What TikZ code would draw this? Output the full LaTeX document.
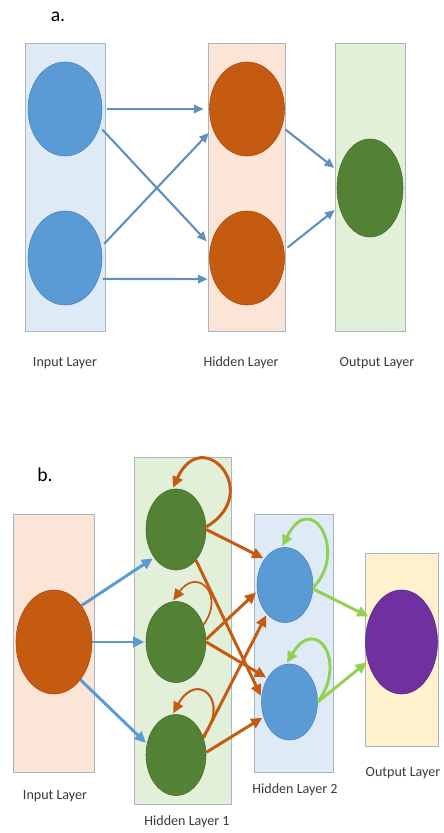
\documentclass[tikz,border=0pt]{standalone}
\usepackage{fontspec}
\setmainfont{Carlito}
\usetikzlibrary{arrows.meta, shapes.geometric}

\definecolor{nnblue}{HTML}{5B9BD5}
\definecolor{nnorange}{HTML}{C55A11}
\definecolor{nngreen}{HTML}{548235}
\definecolor{nnpurple}{HTML}{7030A0}
\definecolor{nnlime}{HTML}{92D050}
\definecolor{nnsteel}{HTML}{6090C0}
\definecolor{boxblue}{HTML}{DEEBF7}
\definecolor{boxpeach}{HTML}{FBE5D6}
\definecolor{boxgreen}{HTML}{E2F0D9}
\definecolor{boxyellow}{HTML}{FFF2CC}
\definecolor{boxedge}{HTML}{AAB5C3}
\definecolor{labelgray}{HTML}{3A3A3A}

\begin{document}
\begin{tikzpicture}[x=0.025cm, y=-0.025cm, font=\fontsize{10}{12}\selectfont,
    layer/.style={draw=boxedge, line width=0.6pt},
    neuron/.style={ellipse, inner sep=0pt, fill=#1, draw=#1!85!black, line width=0.4pt},
    caption/.style={text=labelgray, inner sep=0pt},
    tag/.style={font=\fontsize{14}{16}\selectfont, inner sep=0pt},
    conna/.style={-{Triangle[length=2.4mm,width=2.1mm]}, draw=nnsteel, line width=1.5pt,
        shorten <=3pt, shorten >=4pt},
    connb/.style={-{Triangle[length=2.8mm,width=2.6mm]}, draw=#1, line width=2.1pt,
        shorten >=1pt}]
    \useasboundingbox (0,0) rectangle (443,833);

    % 图 a
    \node[tag] (taga) at (58,17) {a.};
    \draw[layer, fill=boxblue] (25,43) rectangle (105,331);
    \draw[layer, fill=boxpeach] (208,43) rectangle (285,331);
    \draw[layer, fill=boxgreen] (335,43) rectangle (405,331);

    \foreach \y [count=\i] in {109,258} {
        \node[neuron=nnblue, minimum width=1.85cm, minimum height=2.35cm] (ina\i) at (65,\y) {};
        \node[neuron=nnorange, minimum width=1.875cm, minimum height=2.35cm] (hida\i) at (247,\y) {};
    }
    \node[neuron=nngreen, minimum width=1.65cm, minimum height=2.45cm] (outa) at (370,188) {};

    % 连接
    \draw[conna] (ina1.0) -- (hida1.180);
    \draw[conna] (ina1.-27) -- (hida2.161);
    \draw[conna] (ina2.17) -- (hida1.-150);
    \draw[conna] (ina2.-32) -- (hida2.-148);
    \draw[conna] (hida1.-27) -- (outa.152);
    \draw[conna] (hida2.12) -- (outa.-149);

    \node[caption] (capa1) at (65,363) {Input Layer};
    \node[caption] (capa2) at (241,363) {Hidden Layer};
    \node[caption] (capa3) at (377,363) {Output Layer};

    % 图 b
    \node[tag] (tagb) at (45,475) {b.};
    \draw[layer, fill=boxpeach] (13,514) rectangle (94,772);
    \draw[layer, fill=boxgreen] (134,457) rectangle (231,804);
    \draw[layer, fill=boxblue] (254,514) rectangle (333,772);
    \draw[layer, fill=boxyellow] (365,553) rectangle (438,746);

    \node[neuron=nnorange, minimum width=1.9cm, minimum height=2.6cm] (inb) at (54,642) {};
    \foreach \y [count=\i] in {529.5,642,755}
        \node[neuron=nngreen, minimum width=1.5cm, minimum height=2.025cm] (hx\i) at (176,\y) {};
    \node[neuron=nnblue, minimum width=1.4cm, minimum height=1.875cm] (hy1) at (285,585) {};
    \node[neuron=nnblue, minimum width=1.4cm, minimum height=1.9cm] (hy2) at (289.5,702) {};
    \node[neuron=nnpurple, minimum width=1.8cm, minimum height=2.6cm] (outb) at (401.5,642) {};

    % 输入层 -> 隐藏层 1
    \draw[connb=nnblue] (inb.53) -- (hx1.-128);
    \draw[connb=nnblue] (inb.0) -- (hx2.180);
    \draw[connb=nnblue] (inb.-55) -- (hx3.159);

    % 隐藏层 1 -> 隐藏层 2
    \draw[connb=nnorange] (hx1.0) -- (hy1.128);
    \draw[connb=nnorange] (hx1.-57) -- (hy2.170);
    \draw[connb=nnorange] (hx2.5) -- (hy1.-167);
    \draw[connb=nnorange] (hx2.0) -- (hy2.133);
    \draw[connb=nnorange] (hx3.32) -- (hy1.-122);
    \draw[connb=nnorange] (hx3.5) -- (hy2.-150);

    % 自环
    \draw[connb=nnorange] (hx1.5) .. controls +(58,-34) and +(30,-66) .. (hx1.95);
    \draw[connb=nnorange, line width=1.2pt] (hx2.32) .. controls +(22,-30) and +(25,-35) .. (hx2.95);
    \draw[connb=nnorange, line width=1.5pt] (hx3.35) .. controls +(28,-35) and +(25,-45) .. (hx3.95);
    \draw[connb=nnlime] (hy1.-5) .. controls +(35,-35) and +(30,-60) .. (hy1.95);
    \draw[connb=nnlime] (hy2.0) .. controls +(30,-40) and +(30,-50) .. (hy2.95);

    % 隐藏层 2 -> 输出层
    \draw[connb=nnlime] (hy1.-8) -- (outb.142);
    \draw[connb=nnlime] (hy2.0) -- (outb.-150);

    \node[caption] (capb1) at (55,796.5) {Input Layer};
    \node[caption] (capb2) at (187,822) {Hidden Layer 1};
    \node[caption] (capb3) at (295,789.5) {Hidden Layer 2};
    \node[caption] (capb4) at (403,773.5) {Output Layer};
\end{tikzpicture}
\end{document}
